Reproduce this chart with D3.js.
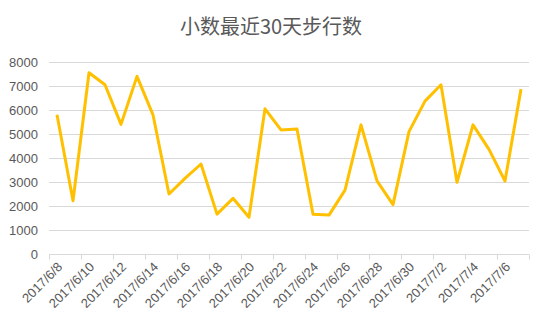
<!DOCTYPE html>
<html>
<head>
<meta charset="utf-8">
<script src="https://cdn.jsdelivr.net/npm/d3@7"></script>
<style>
  body { margin: 0; background: #fff; }
  svg text { font-family: "Liberation Sans", Arial, "Noto Sans CJK SC", sans-serif; }
</style>
</head>
<body>
<div id="chart"></div>
<script>
/* --- データ --- */
const days = [
  "2017/6/8","2017/6/9","2017/6/10","2017/6/11","2017/6/12","2017/6/13","2017/6/14","2017/6/15",
  "2017/6/16","2017/6/17","2017/6/18","2017/6/19","2017/6/20","2017/6/21","2017/6/22","2017/6/23",
  "2017/6/24","2017/6/25","2017/6/26","2017/6/27","2017/6/28","2017/6/29","2017/6/30","2017/7/1",
  "2017/7/2","2017/7/3","2017/7/4","2017/7/5","2017/7/6","2017/7/7"
];
const steps = [
  5800, 2220, 7550, 7050, 5400, 7400, 5800, 2500, 3150, 3750,
  1660, 2320, 1530, 6050, 5170, 5210, 1660, 1620, 2660, 5380,
  3050, 2060, 5100, 6370, 7050, 2990, 5380, 4360, 3040, 6870
];
const yTicks = [0, 1000, 2000, 3000, 4000, 5000, 6000, 7000, 8000];
const title = "小数最近30天步行数";

/* --- サイズ --- */
const width = 541, height = 317;
const margin = {top: 62, right: 12, bottom: 63, left: 49};

const svg = d3.select("#chart").append("svg")
  .attr("width", width)
  .attr("height", height);

// タイトル
svg.append("text")
  .attr("x", 271)
  .attr("y", 34)
  .attr("text-anchor", "middle")
  .attr("fill", "#595959")
  .style("font-family", "'Noto Sans CJK SC', sans-serif")
  .style("font-size", "20px")
  .text(title);

/* --- スケール --- */
const x = d3.scaleBand()
  .domain(days)
  .range([margin.left, width - margin.right]);

const y = d3.scaleLinear()
  .domain([0, 8000])
  .range([height - margin.bottom, margin.top]);

/* --- グリッド --- */
svg.append("g")
  .selectAll("line")
  .data(yTicks.filter(d => d > 0))
  .join("line")
  .attr("x1", margin.left)
  .attr("x2", width - margin.right)
  .attr("y1", d => Math.round(y(d)) + 0.5)
  .attr("y2", d => Math.round(y(d)) + 0.5)
  .attr("stroke", "#d9d9d9")
  .attr("stroke-width", 1);

// Y軸ラベル
svg.append("g")
  .selectAll("text")
  .data(yTicks)
  .join("text")
  .attr("x", 38)
  .attr("y", d => y(d))
  .attr("dy", "0.35em")
  .attr("text-anchor", "end")
  .attr("fill", "#595959")
  .style("font-size", "13px")
  .text(d => d);

/* --- X軸 --- */
const baseY = Math.round(y(0)) + 0.5;
svg.append("line")
  .attr("x1", margin.left)
  .attr("x2", width - margin.right)
  .attr("y1", baseY)
  .attr("y2", baseY)
  .attr("stroke", "#d9d9d9");

// 目盛り（2日ごとの境界）
const tickIdx = d3.range(0, days.length + 1, 2);
svg.append("g")
  .selectAll("line")
  .data(tickIdx)
  .join("line")
  .attr("x1", i => Math.round(margin.left + i * x.bandwidth()) + 0.5)
  .attr("x2", i => Math.round(margin.left + i * x.bandwidth()) + 0.5)
  .attr("y1", baseY)
  .attr("y2", baseY + 5)
  .attr("stroke", "#d9d9d9");

// 日付ラベル
svg.append("g")
  .selectAll("text")
  .data(days.filter((d, i) => i % 2 === 0))
  .join("text")
  .attr("transform", d => "translate(" + (x(d) + x.bandwidth() / 2 + 3) + "," + (baseY + 10) + ") rotate(-45)")
  .attr("text-anchor", "end")
  .attr("dy", "0.35em")
  .attr("fill", "#595959")
  .style("font-size", "13px")
  .text(d => d);

/* --- 折れ線 --- */
const line = d3.line()
  .x((d, i) => x(days[i]) + x.bandwidth() / 2)
  .y(d => y(d));

svg.append("path")
  .datum(steps)
  .attr("d", line)
  .attr("fill", "none")
  .attr("stroke", "#ffc000")
  .attr("stroke-width", 3)
  .attr("stroke-linejoin", "round");
</script>
</body>
</html>
